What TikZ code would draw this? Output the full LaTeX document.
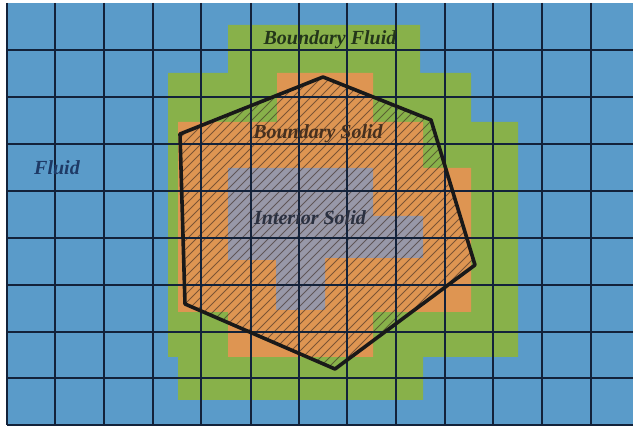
\documentclass[tikz,border=0pt]{standalone}
\usepackage{fontspec}
\setmainfont{Liberation Serif}
\definecolor{fluidblue}{HTML}{5A9BC9}
\definecolor{bgreen}{HTML}{88B14A}
\definecolor{bsolid}{HTML}{DE9552}
\definecolor{isolid}{HTML}{9898A8}
\definecolor{gridc}{HTML}{13223A}
\definecolor{hatchc}{HTML}{3A2A22}
\definecolor{bfcol}{HTML}{24361A}
\definecolor{bscol}{HTML}{46301F}
\definecolor{iscol}{HTML}{2A3040}
\definecolor{flcol}{HTML}{1E3A66}
\begin{document}
\begin{tikzpicture}[x=1pt,y=-1pt,
  gridl/.style={draw=gridc,line width=1.5pt},
  hatchl/.style={draw=hatchc,line width=0.85pt,opacity=0.6},
  body/.style={draw=black!90,line width=3.6pt,line join=round},
  lbl/.style={font=\fontsize{20}{24}\selectfont\bfseries\itshape,inner sep=0pt,anchor=base}]
\useasboundingbox (0,0) rectangle (633,427);
\fill[white] (0,0) rectangle (633,427);
% fluid background
\fill[fluidblue] (7,3) rectangle (633,425);
% boundary fluid
\fill[bgreen] (228,25) -- (420,25) -- (420,73) -- (471,73) -- (471,122) -- (518,122)
  -- (518,357) -- (423,357) -- (423,400) -- (178,400) -- (178,357) -- (168,357)
  -- (168,73) -- (228,73) -- cycle;
% boundary solid
\fill[bsolid] (178,122) -- (277,122) -- (277,73) -- (373,73) -- (373,122) -- (423,122)
  -- (423,168) -- (471,168) -- (471,312) -- (373,312) -- (373,357) -- (228,357)
  -- (228,312) -- (178,312) -- cycle;
% interior solid
\fill[isolid] (228,168) -- (373,168) -- (373,216) -- (423,216) -- (423,258) -- (325,258)
  -- (325,310) -- (276,310) -- (276,260) -- (228,260) -- cycle;
% hatching inside the body
\begin{scope}
  \clip (180,134) -- (323,77) -- (431,120) -- (475,265) -- (335,369) -- (185,304) -- cycle;
  \foreach \i in {-300,-291,...,500} \draw[hatchl] (\i,420) -- ++(420,-420);
\end{scope}
% grid
\foreach \x in {7,55,104,153,201,251,299,347,396,445,493,542,591}
  \draw[gridl] (\x,3) -- (\x,425);
\foreach \y in {50,97,144,191,238,285,332,378,425}
  \draw[gridl] (7,\y) -- (633,\y);
% body outline
\draw[body] (180,134) -- (323,77) -- (431,120) -- (475,265) -- (335,369) -- (185,304) -- cycle;
% labels
\node[lbl,text=bfcol] (bf) at (330,45) {Boundary Fluid};
\node[lbl,text=bscol] (bs) at (318,139) {Boundary Solid};
\node[lbl,text=iscol] (is) at (310,225) {Interior Solid};
\node[lbl,text=flcol] (fl) at (57,175) {Fluid};
\end{tikzpicture}
\end{document}
